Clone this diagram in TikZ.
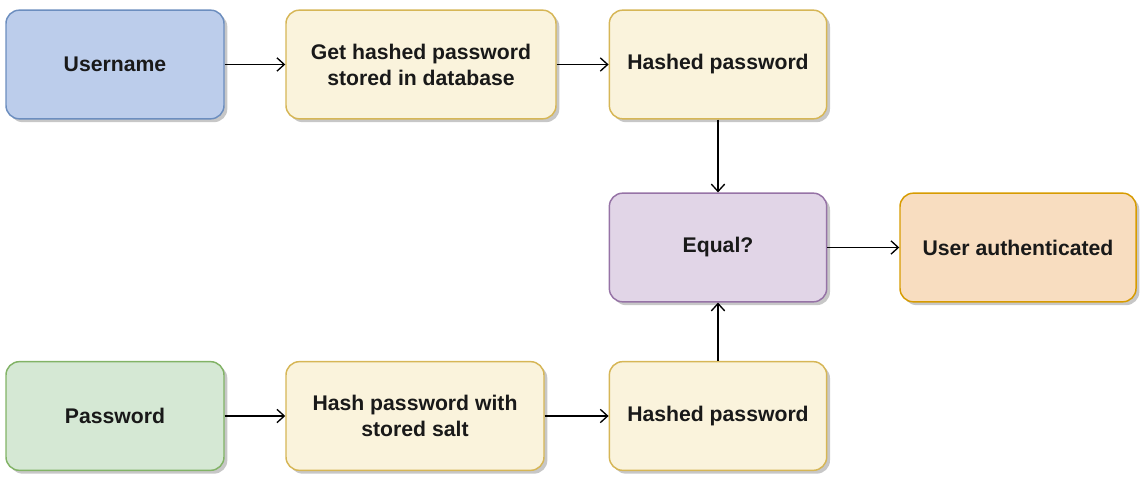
\documentclass[tikz,border=0pt]{standalone}
\usepackage{fontspec}
\setmainfont{Liberation Sans}
\usetikzlibrary{arrows.meta,shadows}
\definecolor{bluefill}{HTML}{BCCDEB}
\definecolor{bluedraw}{HTML}{6C8EBF}
\definecolor{yelfill}{HTML}{FAF3DC}
\definecolor{yeldraw}{HTML}{D6B656}
\definecolor{purfill}{HTML}{E1D5E7}
\definecolor{purdraw}{HTML}{9673A6}
\definecolor{grnfill}{HTML}{D5E8D4}
\definecolor{grndraw}{HTML}{82B366}
\definecolor{orgfill}{HTML}{F8DDC0}
\definecolor{orgdraw}{HTML}{D79B00}
\tikzset{
  box/.style={draw, line width=1.1pt, rounded corners=10pt, align=center,
    inner sep=0pt, minimum height=81.5pt,
    font=\fontsize{15.9}{19.5}\selectfont\bfseries, text=black!90,
    drop shadow={shadow xshift=2.5pt, shadow yshift=-2.5pt, fill=black!22, opacity=1}},
  >={Straight Barb[length=5.5pt,width=10pt]}
}
\begin{document}
\begin{tikzpicture}[x=0.75pt,y=-0.75pt]
\useasboundingbox (0,0) rectangle (1148,484);

\node [box, fill=bluefill, draw=bluedraw, minimum width=163.5pt] (user) at (115,64.5) {Username};
\node [box, fill=yelfill, draw=yeldraw, minimum width=202.5pt] (gethash) at (421,64.5) {Get hashed password\\stored in database};
\node [box, fill=yelfill, draw=yeldraw, minimum width=163pt] (hashtop) at (718,64.5) {Hashed password};

\node [box, fill=purfill, draw=purdraw, minimum width=163pt] (equal) at (718,247.5) {Equal?};
\node [box, fill=orgfill, draw=orgdraw, minimum width=177pt] (auth) at (1018,247.5) {User authenticated};

\node [box, fill=grnfill, draw=grndraw, minimum width=163.5pt] (pass) at (115,416) {Password};
\node [box, fill=yelfill, draw=yeldraw, minimum width=193.5pt] (hashsalt) at (415,416) {Hash password with\\stored salt};
\node [box, fill=yelfill, draw=yeldraw, minimum width=163pt] (hashbot) at (718,416) {Hashed password};

\draw [->] [line width=1pt] (user) -- (gethash);
\draw [->] [line width=1pt] (gethash) -- (hashtop);
\draw [->] [line width=1pt] (hashtop) -- (equal);
\draw [->] [line width=1pt] (equal) -- (auth);
\draw [->] [line width=1pt] (pass) -- (hashsalt);
\draw [->] [line width=1pt] (hashsalt) -- (hashbot);
\draw [->] [line width=1pt] (hashbot) -- (equal);

\end{tikzpicture}
\end{document}
